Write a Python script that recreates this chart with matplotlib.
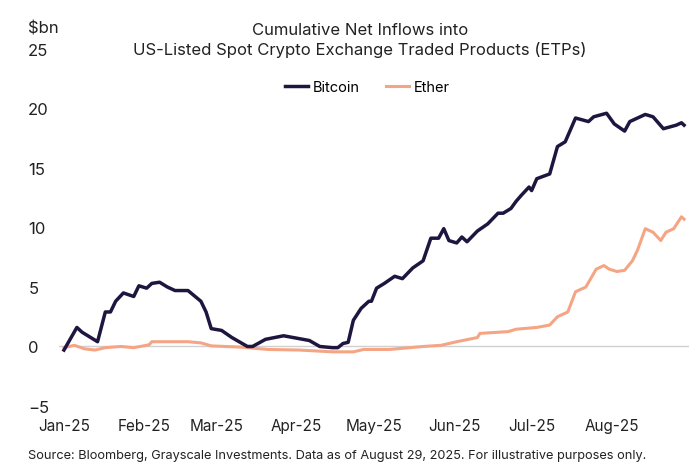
import pandas as pd
import matplotlib
matplotlib.use("Agg")
import matplotlib.pyplot as plt
import matplotlib.dates as mdates

# values ($bn, cumulative net inflows)
btc_dates = ["2025-01-01", "2025-01-06", "2025-01-08", "2025-01-14", "2025-01-17", "2025-01-19",
             "2025-01-21", "2025-01-24", "2025-01-28", "2025-01-30", "2025-02-02", "2025-02-04",
             "2025-02-07", "2025-02-10", "2025-02-13", "2025-02-18", "2025-02-23", "2025-02-25",
             "2025-02-27", "2025-03-03", "2025-03-07", "2025-03-13", "2025-03-15", "2025-03-20",
             "2025-03-27", "2025-04-01", "2025-04-06", "2025-04-10", "2025-04-15", "2025-04-17",
             "2025-04-19", "2025-04-21", "2025-04-23", "2025-04-26", "2025-04-29", "2025-04-30",
             "2025-05-02", "2025-05-05", "2025-05-09", "2025-05-12", "2025-05-16", "2025-05-20",
             "2025-05-23", "2025-05-26", "2025-05-28", "2025-05-30", "2025-06-02", "2025-06-04",
             "2025-06-06", "2025-06-10", "2025-06-14", "2025-06-18", "2025-06-20", "2025-06-23",
             "2025-06-25", "2025-06-27", "2025-06-30", "2025-07-01", "2025-07-03", "2025-07-08",
             "2025-07-11", "2025-07-14", "2025-07-18", "2025-07-23", "2025-07-25", "2025-07-30",
             "2025-08-02", "2025-08-06", "2025-08-08", "2025-08-14", "2025-08-17", "2025-08-21",
             "2025-08-26", "2025-08-28", "2025-08-29"]
btc_values = [-0.3, 1.6, 1.2, 0.4, 2.9, 2.9,
              3.8, 4.5, 4.2, 5.1, 4.9, 5.3,
              5.4, 5.0, 4.7, 4.7, 3.8, 2.9,
              1.5, 1.35, 0.75, 0.0, 0.0, 0.6,
              0.9, 0.7, 0.5, 0.0, -0.1, -0.1,
              0.25, 0.35, 2.2, 3.2, 3.8, 3.8,
              4.9, 5.3, 5.9, 5.7, 6.6, 7.2,
              9.1, 9.1, 9.9, 8.9, 8.7, 9.2,
              8.8, 9.7, 10.3, 11.2, 11.2, 11.6,
              12.2, 12.7, 13.4, 13.1, 14.1, 14.5,
              16.8, 17.2, 19.2, 18.9, 19.3, 19.6,
              18.7, 18.1, 18.9, 19.5, 19.3, 18.3,
              18.6, 18.8, 18.6]

eth_dates = ["2025-01-01", "2025-01-05", "2025-01-09", "2025-01-13", "2025-01-17", "2025-01-23",
             "2025-01-28", "2025-02-02", "2025-02-03", "2025-02-04", "2025-02-18", "2025-02-23",
             "2025-02-27", "2025-03-10", "2025-03-21", "2025-04-02", "2025-04-15", "2025-04-23",
             "2025-04-27", "2025-05-07", "2025-05-20", "2025-05-27", "2025-06-02", "2025-06-10",
             "2025-06-11", "2025-06-22", "2025-06-25", "2025-07-03", "2025-07-08", "2025-07-11",
             "2025-07-15", "2025-07-18", "2025-07-22", "2025-07-26", "2025-07-29", "2025-07-31",
             "2025-08-03", "2025-08-06", "2025-08-09", "2025-08-11", "2025-08-14", "2025-08-17",
             "2025-08-20", "2025-08-22", "2025-08-25", "2025-08-28", "2025-08-29"]
eth_values = [-0.1, 0.1, -0.2, -0.3, -0.1, 0.0,
              -0.1, 0.1, 0.15, 0.4, 0.4, 0.3,
              0.05, -0.05, -0.25, -0.3, -0.45, -0.45,
              -0.25, -0.25, 0.0, 0.1, 0.4, 0.75,
              1.1, 1.25, 1.45, 1.6, 1.8, 2.5,
              2.9, 4.6, 5.0, 6.5, 6.8, 6.5,
              6.3, 6.4, 7.2, 8.1, 9.9, 9.6,
              8.9, 9.6, 9.9, 10.9, 10.7]

y_ticks = [-5, 0, 5, 10, 15, 20, 25]

btc = pd.Series(btc_values, index=pd.to_datetime(btc_dates))
eth = pd.Series(eth_values, index=pd.to_datetime(eth_dates))

plt.rcParams['font.family'] = ['Inter', 'DejaVu Sans']

fig = plt.figure(figsize=(7, 4.77), dpi=100)
ax = fig.add_axes([0.084, 0.1468, 0.9006, 0.7484])

ax.axhline(0, color="#d0d0d0", lw=1, zorder=1)
ax.plot(btc.index, btc.values, color="#1f1640", lw=2.5, label="Bitcoin", zorder=3)
ax.plot(eth.index, eth.values, color="#f5a584", lw=2.2, label="Ether", zorder=2)

ax.set_ylim(-5, 25)
ax.set_yticks(y_ticks)
ax.set_xlim(pd.Timestamp("2024-12-30"), pd.Timestamp("2025-08-31"))
ax.xaxis.set_major_locator(mdates.MonthLocator())
ax.xaxis.set_major_formatter(mdates.DateFormatter("%b-%y"))

for s in ax.spines.values():
    s.set_visible(False)
ax.tick_params(axis="y", length=0, pad=22, labelsize=12, labelcolor="#222222")
ax.tick_params(axis="x", length=0, pad=9, labelsize=11, labelcolor="#222222")
for lab in ax.get_yticklabels():
    lab.set_horizontalalignment("left")

fig.text(0.04, 0.94, "$bn", fontsize=12, color="#222222", va="center")
fig.text(0.514, 0.937, "Cumulative Net Inflows into", fontsize=12, ha="center",
         va="center", color="#222222")
fig.text(0.514, 0.895, "US-Listed Spot Crypto Exchange Traded Products (ETPs)", fontsize=12,
         ha="center", va="center", color="#222222")

ax.legend(loc="center", bbox_to_anchor=(0.525, 0.8155), bbox_transform=fig.transFigure,
          ncol=2, frameon=False, fontsize=10.5, handlelength=1.6, handletextpad=0.3,
          columnspacing=1.8)

fig.text(0.04, 0.045, "Source: Bloomberg, Grayscale Investments. Data as of August 29, 2025. "
         "For illustrative purposes only.", fontsize=9.2, color="#222222", va="center")

fig.savefig("out.png", dpi=100)
